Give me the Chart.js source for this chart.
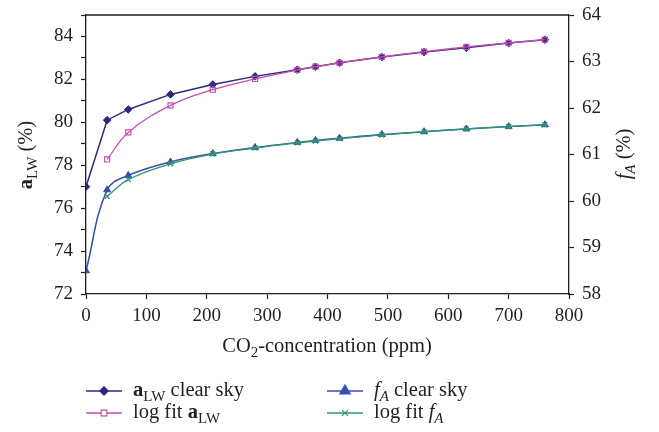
<!DOCTYPE html>
<html><head><meta charset="utf-8">
<script src="https://cdn.jsdelivr.net/npm/chart.js@4/dist/chart.umd.min.js"></script>
<style>html,body{margin:0;padding:0;background:#fff;}#wrap{width:659px;height:432px;}</style>
</head><body><div id="wrap"><canvas id="c" width="659" height="432"></canvas></div>
<script>
// ---- data ----
const co2 = [0, 35, 70, 140, 210, 280, 350, 380, 420, 490, 560, 630, 700, 760];
const aLWClear = [77.0, 80.1, 80.6, 81.3, 81.76, 82.14, 82.45, 82.59, 82.77, 83.04, 83.27, 83.47, 83.69, 83.85];
const aLWFit = [null, 78.27, 79.53, 80.79, 81.52, 82.02, 82.44, 82.59, 82.77, 83.05, 83.29, 83.51, 83.70, 83.85];
const fAClear = [58.5, 60.24, 60.55, 60.84, 61.02, 61.15, 61.26, 61.30, 61.35, 61.43, 61.49, 61.55, 61.60, 61.64];
const fAFit = [null, 60.10, 60.46, 60.80, 61.01, 61.14, 61.25, 61.29, 61.34, 61.42, 61.49, 61.55, 61.60, 61.64];
const leftTicks = [72, 74, 76, 78, 80, 82, 84];
const rightTicks = [58, 59, 60, 61, 62, 63, 64];
const xTickLabels = [0, 100, 200, 300, 400, 500, 600, 700, 800];

const FONT = '"Liberation Serif", "Times New Roman", serif';
const INK = '#231f20';
const C_NAVY = '#2c2a7e', C_MAG = '#c24fae', C_BLUE = '#3a4db2', C_GREEN = '#2f9a6c';

function pts(ys) {
  const out = [];
  co2.forEach((x, i) => { if (ys[i] !== null) out.push({ x: x, y: ys[i] }); });
  return out;
}

// rich text: segs [{t, b, i, sub}]
function segFont(s, size) {
  const sz = s.sub ? Math.round(size * 0.72) : size;
  return (s.i ? 'italic ' : '') + (s.b ? 'bold ' : '') + sz + 'px ' + FONT;
}
function richWidth(ctx, segs, size) {
  let w = 0;
  segs.forEach(s => { ctx.font = segFont(s, size); w += ctx.measureText(s.t).width; });
  return w;
}
function drawRich(ctx, segs, x, y, size, align) {
  let cx = x;
  const w = richWidth(ctx, segs, size);
  if (align === 'center') cx = x - w / 2;
  ctx.textAlign = 'left';
  ctx.textBaseline = 'alphabetic';
  segs.forEach(s => {
    ctx.font = segFont(s, size);
    ctx.fillText(s.t, cx, y + (s.sub ? size * 0.25 : 0));
    cx += ctx.measureText(s.t).width;
  });
}

const legendItems = [
  { col: 0, row: 0, color: C_NAVY, style: 'rectRot', r: 4.2, fill: C_NAVY, segs: [{ t: 'a', b: true }, { t: 'LW', sub: true }, { t: ' clear sky' }] },
  { col: 0, row: 1, color: C_MAG, style: 'rect', r: 4, fill: '#ffffff', segs: [{ t: 'log fit ' }, { t: 'a', b: true }, { t: 'LW', sub: true }] },
  { col: 1, row: 0, color: C_BLUE, style: 'triangle', r: 6, fill: C_BLUE, segs: [{ t: 'f', i: true }, { t: 'A', i: true, sub: true }, { t: ' clear sky' }] },
  { col: 1, row: 1, color: C_GREEN, style: 'crossRot', r: 4, fill: C_GREEN, segs: [{ t: 'log fit ' }, { t: 'f', i: true }, { t: 'A', i: true, sub: true }] }
];

const decor = {
  id: 'decor',
  afterDraw(chart) {
    const ctx = chart.ctx;
    const a = chart.chartArea;
    ctx.save();
    // top border of the plot box
    ctx.strokeStyle = INK; ctx.lineWidth = 1.3;
    ctx.beginPath(); ctx.moveTo(a.left, a.top); ctx.lineTo(a.right, a.top); ctx.stroke();
    ctx.fillStyle = INK;
    // x title
    drawRich(ctx, [{ t: 'CO' }, { t: '2', sub: true }, { t: '-concentration (ppm)' }], 327, 352, 20.5, 'center');
    // left title
    ctx.save(); ctx.translate(32, 155); ctx.rotate(-Math.PI / 2);
    drawRich(ctx, [{ t: 'a', b: true }, { t: 'LW', sub: true }, { t: ' (%)' }], 0, 0, 20.5, 'center');
    ctx.restore();
    // right title
    ctx.save(); ctx.translate(630, 154); ctx.rotate(-Math.PI / 2);
    drawRich(ctx, [{ t: 'f', i: true }, { t: 'A', i: true, sub: true }, { t: ' (%)' }], 0, 0, 20.5, 'center');
    ctx.restore();
    // legend
    const colX = [86, 327], rowY = [391, 413];
    legendItems.forEach(it => {
      const x0 = colX[it.col], y0 = rowY[it.row];
      ctx.strokeStyle = it.color; ctx.lineWidth = 1.5;
      ctx.beginPath(); ctx.moveTo(x0, y0); ctx.lineTo(x0 + 36, y0); ctx.stroke();
      ctx.fillStyle = it.fill; ctx.strokeStyle = it.color; ctx.lineWidth = 1.2;
      Chart.helpers.drawPoint(ctx, { pointStyle: it.style, radius: it.r, rotation: 0, borderWidth: 1.2 }, x0 + 18, y0);
      ctx.fillStyle = INK;
      drawRich(ctx, it.segs, x0 + 47, y0 + 5, 20.5, 'left');
    });
    ctx.restore();
  }
};

const tickFont = { family: FONT, size: 19 };

new Chart(document.getElementById('c'), {
  type: 'line',
  data: {
    datasets: [
      { label: 'aLW clear sky', data: pts(aLWClear), yAxisID: 'y', order: 3,
        borderColor: C_NAVY, backgroundColor: C_NAVY, borderWidth: 1.5, tension: 0,
        pointStyle: 'rectRot', pointRadius: 3.8, pointBorderWidth: 1, pointBackgroundColor: C_NAVY },
      { label: 'log fit aLW', data: pts(aLWFit), yAxisID: 'y', order: 2,
        borderColor: C_MAG, backgroundColor: C_MAG, borderWidth: 1.3, tension: 0.4,
        pointStyle: 'rect', pointRadius: 3.6, pointBorderWidth: 1.2, pointBackgroundColor: 'rgba(255,255,255,0)' },
      { label: 'fA clear sky', data: pts(fAClear), yAxisID: 'y1', order: 1,
        borderColor: C_BLUE, backgroundColor: C_BLUE, borderWidth: 1.5, tension: 0.4,
        pointStyle: 'triangle', pointRadius: 4, pointBorderWidth: 1, pointBackgroundColor: C_BLUE },
      { label: 'log fit fA', data: pts(fAFit), yAxisID: 'y1', order: 0,
        borderColor: C_GREEN, backgroundColor: C_GREEN, borderWidth: 1.3, tension: 0.4,
        pointStyle: 'crossRot', pointRadius: 3.5, pointBorderWidth: 1.3 }
    ]
  },
  options: {
    responsive: false, animation: false, devicePixelRatio: 1,
    layout: { padding: { top: 15, left: 0, right: 0, bottom: 0 } },
    plugins: { legend: { display: false }, tooltip: { enabled: false } },
    scales: {
      x: {
        type: 'linear', min: 0, max: 800,
        afterBuildTicks: s => { s.ticks = xTickLabels.map(v => ({ value: v })); },
        ticks: { font: tickFont, color: INK, padding: 6, maxRotation: 0, autoSkip: false },
        grid: { drawOnChartArea: false, drawTicks: true, tickLength: 5, color: INK, tickWidth: 1.2 },
        border: { display: true, color: INK, width: 1.3 },
        afterFit: s => { s.height = 138; s.paddingLeft = 0; s.paddingRight = 0; }
      },
      y: {
        position: 'left', min: 72, max: 85,
        afterBuildTicks: s => { const t = []; for (let v = 72; v <= 85; v++) t.push({ value: v }); s.ticks = t; },
        ticks: { font: tickFont, color: INK, padding: 8, autoSkip: false,
          callback: v => leftTicks.includes(v) ? String(v) : '' },
        grid: { drawOnChartArea: false, drawTicks: true, tickLength: 5, color: INK, tickWidth: 1.2 },
        border: { display: true, color: INK, width: 1.3 },
        afterFit: s => { s.width = 86; s.paddingTop = 0; s.paddingBottom = 0; }
      },
      y1: {
        position: 'right', min: 58, max: 64,
        afterBuildTicks: s => { s.ticks = rightTicks.map(v => ({ value: v })); },
        ticks: { font: tickFont, color: INK, padding: 8, autoSkip: false },
        grid: { drawOnChartArea: false, drawTicks: true, tickLength: 5, color: INK, tickWidth: 1.2 },
        border: { display: true, color: INK, width: 1.3 },
        afterFit: s => { s.width = 90; s.paddingTop = 0; s.paddingBottom = 0; }
      }
    }
  },
  plugins: [decor]
});
</script></body></html>
